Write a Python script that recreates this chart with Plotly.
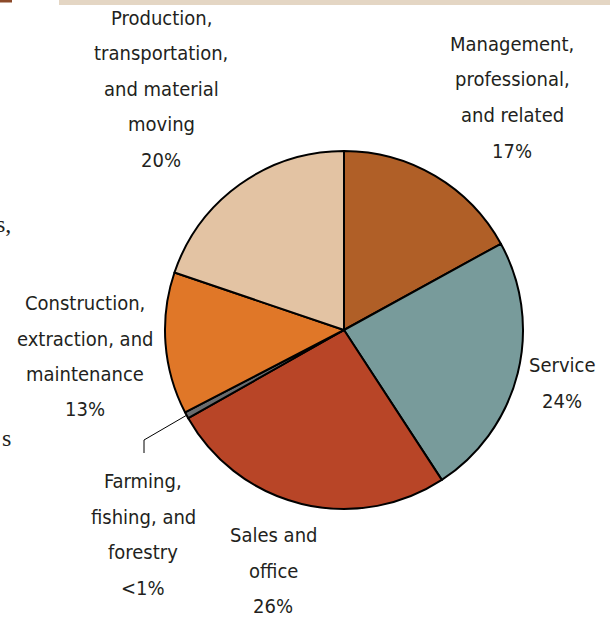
import math
import plotly.graph_objects as go

W, H = 610, 619

# ---- data ----
categories = [
    "Management, professional, and related",
    "Service",
    "Sales and office",
    "Farming, fishing, and forestry",
    "Construction, extraction, and maintenance",
    "Production, transportation, and material moving",
]
shares = [17.0, 23.8, 26.0, 0.6, 12.8, 19.8]
share_labels = ["17%", "24%", "26%", "<1%", "13%", "20%"]
label_lines = [
    ["Management,", "professional,", "and related"],
    ["Service"],
    ["Sales and", "office"],
    ["Farming,", "fishing, and", "forestry"],
    ["Construction,", "extraction, and", "maintenance"],
    ["Production,", "transportation,", "and material", "moving"],
]
colors = ["#B05F27", "#789B9B", "#B84527", "#6A6C6E", "#E07728", "#E3C3A3"]

# ---- layout constants (pixels) ----
CX, CY, R = 344, 330, 179
FONT = "Liberation Sans Narrow, DejaVu Sans Condensed, Arial Narrow, sans-serif"
FS = 20
TXT = "#231F20"
LINE_PITCH = 35.5
# label block: (center x, y of first line)
label_pos = [
    (512, 44),
    (562, 365),
    (273, 535),
    (143, 481),
    (85, 303),
    (161, 18),
]


def px(x):
    return x / W


def py(y):
    return 1 - y / H


fig = go.Figure(
    go.Pie(
        labels=categories,
        values=shares,
        sort=False,
        direction="clockwise",
        rotation=0,
        marker=dict(colors=colors, line=dict(color="black", width=2)),
        textinfo="none",
        hoverinfo="label+percent",
        showlegend=False,
        domain=dict(x=[px(CX - R), px(CX + R)], y=[py(CY + R), py(CY - R)]),
    )
)

annotations = []
for lines, pct, (lx, ly) in zip(label_lines, share_labels, label_pos):
    for i, t in enumerate(lines + [pct]):
        annotations.append(
            dict(
                x=px(lx), y=py(ly + i * LINE_PITCH), xref="paper", yref="paper",
                text=t, showarrow=False, xanchor="center", yanchor="middle",
                font=dict(family=FONT, size=FS, color=TXT),
            )
        )

# cut-off text fragments at the left edge (from neighbouring page)
for t, y in [("s,", 224), ("s", 438)]:
    annotations.append(
        dict(
            x=px(13), y=py(y), xref="paper", yref="paper", text=t,
            showarrow=False, xanchor="right", yanchor="middle",
            font=dict(family="Liberation Serif, serif", size=24, color=TXT),
        )
    )

# leader line for the farming slice, from the slice's mid angle on the rim
total = sum(shares)
cum = sum(shares[:3]) + shares[3] / 2
theta = 2 * math.pi * cum / total
ex = CX + R * math.sin(theta)
ey = CY - R * math.cos(theta)
elbow_x, elbow_y, end_y = 144, 440, 453

shapes = [
    dict(type="line", xref="paper", yref="paper",
         x0=px(ex), y0=py(ey), x1=px(elbow_x), y1=py(elbow_y),
         line=dict(color="black", width=1)),
    dict(type="line", xref="paper", yref="paper",
         x0=px(elbow_x), y0=py(elbow_y), x1=px(elbow_x), y1=py(end_y),
         line=dict(color="black", width=1)),
    # header bands at the top edge
    dict(type="rect", xref="paper", yref="paper", x0=px(59), x1=1,
         y0=py(5), y1=1, fillcolor="#E4D6C4", line=dict(width=0), layer="below"),
    dict(type="rect", xref="paper", yref="paper", x0=0, x1=px(12),
         y0=py(2.5), y1=1, fillcolor="#8C4A2A", line=dict(width=0), layer="below"),
]

fig.update_layout(
    width=W, height=H,
    margin=dict(l=0, r=0, t=0, b=0),
    paper_bgcolor="white",
    plot_bgcolor="white",
    annotations=annotations,
    shapes=shapes,
)

fig.write_html(
    "out.html",
    config={"displayModeBar": False},
    post_script="document.body.style.margin='0';document.body.style.overflow='hidden';",
)
